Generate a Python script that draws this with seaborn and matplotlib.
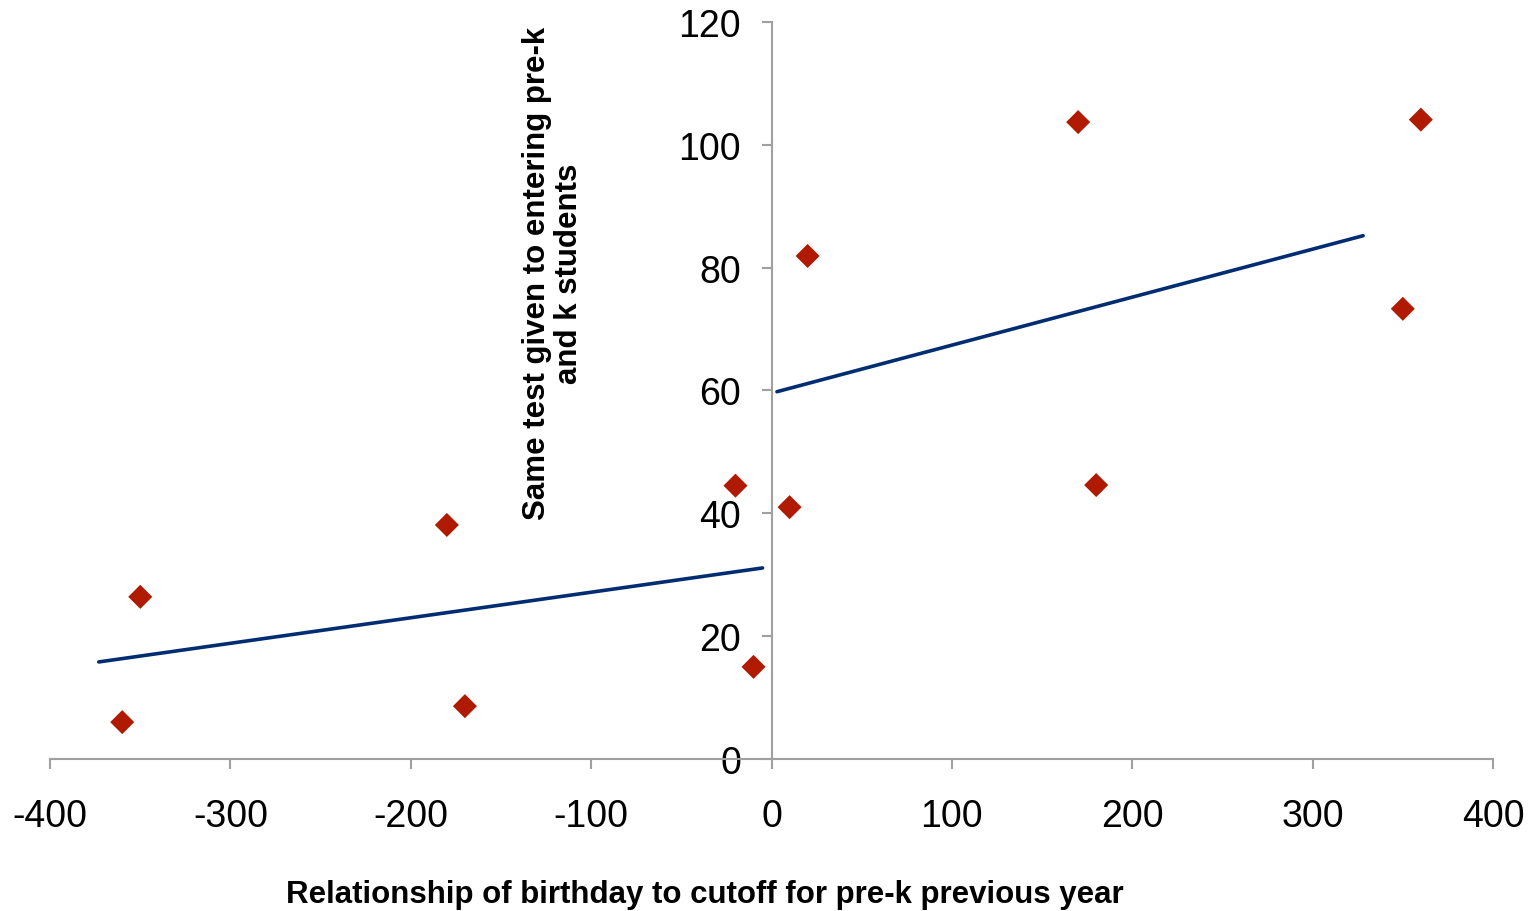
import matplotlib
matplotlib.use("Agg")
import matplotlib.pyplot as plt
import seaborn as sns
import pandas as pd

# birthday relative to cutoff (days) and test score
days = [-360, -350, -180, -170, -20, -10, 10, 20, 170, 180, 350, 360]
score = [6.0, 26.4, 38.1, 8.6, 44.5, 15.0, 41.0, 81.9, 103.7, 44.6, 73.3, 104.1]

# fitted trend segments, each side of the cutoff
fit_side = ["left", "left", "right", "right"]
fit_x = [-373, -5, 3, 328]
fit_y = [15.8, 31.1, 59.8, 85.2]

xticks = [-400, -300, -200, -100, 0, 100, 200, 300, 400]
yticks = [0, 20, 40, 60, 80, 100, 120]

sns.set_style("white")
plt.rcParams['font.family'] = ['Liberation Sans', 'DejaVu Sans']
plt.rcParams['axes.unicode_minus'] = False
plt.rcParams['text.color'] = 'black'

pts = pd.DataFrame({"days": days, "score": score})
fit = pd.DataFrame({"side": fit_side, "x": fit_x, "y": fit_y})

fig = plt.figure(figsize=(15.36, 9.12), dpi=100)
ax = fig.add_axes([0.0326, 0.1667, 0.9394, 0.8081])

sns.lineplot(data=fit, x="x", y="y", units="side", estimator=None,
             color="#002D72", linewidth=2.6, ax=ax)
sns.scatterplot(data=pts, x="days", y="score", marker="D", s=150,
                color="#B01A00", edgecolor="none", ax=ax, zorder=3)

ax.set_xlim(-400, 400)
ax.set_ylim(0, 120)
ax.set_xticks(xticks)
ax.set_yticks(yticks)
ax.set_xlabel("")
ax.set_ylabel("")

# axes cross at the origin, Excel style
ax.spines['left'].set_position(('data', 0))
ax.spines['top'].set_visible(False)
ax.spines['right'].set_visible(False)
for s in ['left', 'bottom']:
    ax.spines[s].set_color("#A0A0A0")
    ax.spines[s].set_linewidth(1.5)
ax.tick_params(axis='both', which='major', direction='out', length=7,
               width=1.5, color="#A0A0A0", labelsize=27, labelcolor="black",
               bottom=True, left=True)
ax.tick_params(axis='x', pad=21)
ax.tick_params(axis='y', pad=15)

fig.text(0.360, 0.700, "Same test given to entering pre-k\nand k students",
         rotation=90, ha="center", va="center", fontsize=22.5,
         fontweight="bold", linespacing=1.05, color="black")
fig.text(0.459, 0.019, "Relationship of birthday to cutoff for pre-k previous year",
         ha="center", va="center", fontsize=22.5, fontweight="bold", color="black")

fig.savefig("out.png", dpi=100)
